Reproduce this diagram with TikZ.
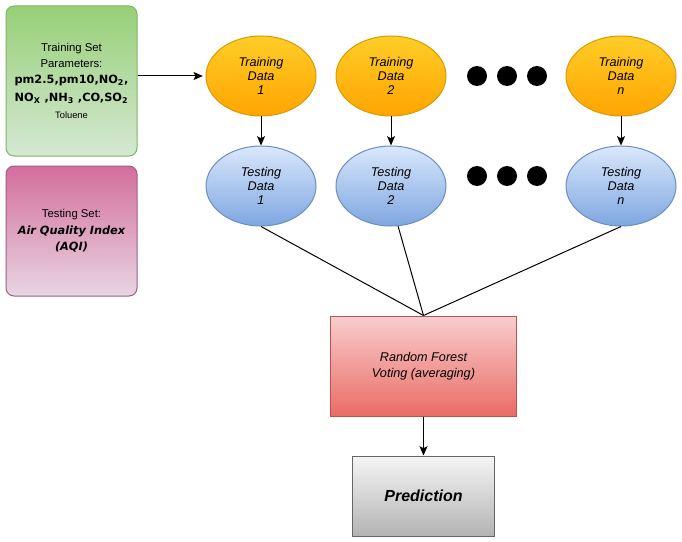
\documentclass[tikz,border=0pt]{standalone}
\usepackage{fontspec}
\setmainfont{Liberation Sans}
\newfontfamily\paramfont{DejaVu Sans}
\usetikzlibrary{shapes.geometric,arrows.meta}
\definecolor{grnT}{HTML}{97D077}\definecolor{grnB}{HTML}{D5E8D4}\definecolor{grnD}{HTML}{82B366}
\definecolor{pnkT}{HTML}{D46E9C}\definecolor{pnkB}{HTML}{E8D5E2}\definecolor{pnkD}{HTML}{996185}
\definecolor{orgT}{HTML}{FFCD28}\definecolor{orgB}{HTML}{FFA500}\definecolor{orgD}{HTML}{D79B00}
\definecolor{bluT}{HTML}{DAE8FC}\definecolor{bluB}{HTML}{7EA6E0}\definecolor{bluD}{HTML}{6C8EBF}
\definecolor{redT}{HTML}{F8CECC}\definecolor{redB}{HTML}{EA6B66}\definecolor{redD}{HTML}{B85450}
\definecolor{gryT}{HTML}{F5F5F5}\definecolor{gryB}{HTML}{B3B3B3}\definecolor{gryD}{HTML}{666666}
\begin{document}
\begin{tikzpicture}[x=0.75pt,y=-0.75pt,line width=0.75pt,
  setbox/.style={rounded corners=6pt,minimum width=98.25pt,align=center,font=\fontsize{8.5}{11.5}\selectfont},
  databox/.style={ellipse,minimum width=82.5pt,minimum height=60pt,inner sep=0pt,align=center,
    font=\fontsize{9.5}{10.5}\selectfont\itshape},
  traindata/.style={databox,draw=orgD,top color=orgT,bottom color=orgB},
  testdata/.style={databox,draw=bluD,top color=bluT,bottom color=bluB},
  dot/.style={circle,fill=black,minimum size=15pt,inner sep=0pt},
  arr/.style={-{Stealth[length=7pt,width=6pt,inset=1.5pt]}}]
  \useasboundingbox (0,0) rectangle (682,542);
  % input sets
  \node[setbox,draw=grnD,top color=grnT,bottom color=grnB,minimum height=112.5pt] (train) at (71.5,81)
    {Training Set\\Parameters:\\[1pt]
     {\paramfont\bfseries pm2.5,pm10,NO\textsubscript{2},}\\[2pt]
     {\paramfont\bfseries NO\textsubscript{X} ,NH\textsubscript{3} ,CO,SO\textsubscript{2}}\\[1pt]
     {\fontsize{7}{9}\selectfont Toluene}};
  \node[setbox,draw=pnkD,top color=pnkT,bottom color=pnkB,minimum height=97.5pt] (test) at (71.5,231)
    {Testing Set:\\[1pt] {\paramfont\bfseries\itshape Air Quality Index}\\[1pt] {\paramfont\bfseries\itshape (AQI)}};
  % data ellipses
  \node[traindata] (d1) at (261,76) {Training\\Data\\1};
  \node[traindata] (d2) at (391,76) {Training\\Data\\2};
  \node[traindata] (dn) at (621,76) {Training\\Data\\n};
  \node[testdata] (t1) at (261,186) {Testing\\Data\\1};
  \node[testdata] (t2) at (391,186) {Testing\\Data\\2};
  \node[testdata] (tn) at (621,186) {Testing\\Data\\n};
  \foreach \i/\x in {1/477,2/507,3/537} {
    \node[dot] (da\i) at (\x,76) {};
    \node[dot] (db\i) at (\x,176) {};
  }
  % forest and result
  \node[draw=redD,top color=redT,bottom color=redB,minimum width=139.5pt,minimum height=75pt,
    align=center,font=\fontsize{9.5}{12}\selectfont\itshape] (rf) at (423.5,366)
    {Random Forest\\Voting (averaging)};
  \node[draw=gryD,top color=gryT,bottom color=gryB,minimum width=106.5pt,minimum height=60pt,
    font=\fontsize{12}{14}\selectfont\bfseries\itshape] (pred) at (423.5,496) {Prediction};
  % connectors
  \draw[arr] (train.east |- d1.west) -- ([xshift=-2pt]d1.west);
  \foreach \a/\b in {d1/t1,d2/t2,dn/tn}
    \draw[arr] (\a.south) -- (\b.north);
  \draw (t1.south) -- (rf.north);
  \draw (t2.-80) -- (rf.north);
  \draw (tn.south) -- (rf.north);
  \draw[arr] (rf.south) -- (pred.north);
\end{tikzpicture}
\end{document}
